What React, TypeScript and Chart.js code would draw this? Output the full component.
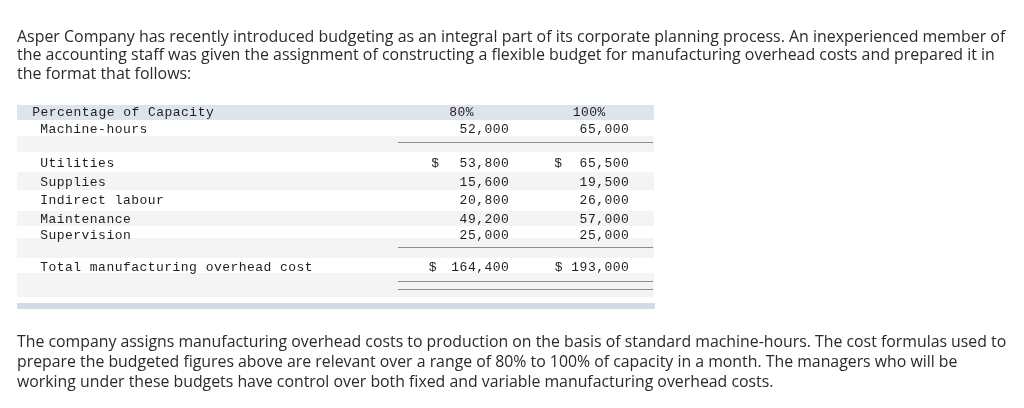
import React, { useEffect, useRef } from "react";
import { Chart, registerables } from "chart.js";

Chart.register(...registerables);

// ---------- Content / data ----------
const introLines = [
  "Asper Company has recently introduced budgeting as an integral part of its corporate planning process. An inexperienced member of",
  "the accounting staff was given the assignment of constructing a flexible budget for manufacturing overhead costs and prepared it in",
  "the format that follows:",
];
const outroLines = [
  "The company assigns manufacturing overhead costs to production on the basis of standard machine-hours. The cost formulas used to",
  "prepare the budgeted figures above are relevant over a range of 80% to 100% of capacity in a month. The managers who will be",
  "working under these budgets have control over both fixed and variable manufacturing overhead costs.",
];

const headerLabel = "Percentage of Capacity";
const activityLabel = "Machine-hours";
const capacityLevels = ["80%", "100%"];
const machineHours = [52000, 65000];
const costItems = ["Utilities", "Supplies", "Indirect labour", "Maintenance", "Supervision"];
const cost80 = [53800, 15600, 20800, 49200, 25000];
const cost100 = [65500, 19500, 26000, 57000, 25000];
const totalLabel = "Total manufacturing overhead cost";

// ---------- Layout / style (not data) ----------
const W = 1024;
const H = 408;
const TABLE_L = 17;
const TABLE_R = 654;
const COLS = [
  { l: 398, r: 525, numRight: 509, dollarLeft: 431, totalDollarLeft: 428.5 },
  { l: 525, r: 653, numRight: 629, dollarLeft: 554, totalDollarLeft: 0 },
];
const HEADER_BAND = { y0: 105, y1: 120 };
const BOTTOM_BAND = { y0: 303, y1: 309 };
const GRAY_STRIPES = [
  [136, 152],
  [172, 190],
  [211, 226],
  [238, 258],
  [273, 297],
];
const BASE_HEADER = 116;
const BASE_ACTIVITY = 132.5;
const BASE_COSTS = [167, 186, 204, 222.5, 238.5];
const BASE_TOTAL = 271;
const RULE_SINGLE = [142.5, 247.5];
const RULE_DOUBLE = [281.5, 289.5];

const MONO_FONT = '13px "Liberation Mono", "DejaVu Sans Mono", monospace';
const ADV = 8.27;
const TEXT_COLOR = "#1e1e1e";
const HEADER_COLOR = "#dfe3ec";
const BAND_COLOR = "#d3d9e6";
const STRIPE_COLOR = "#f4f4f4";
const RULE_COLOR = "#8c8c8c";

const fmt = (n: number) => n.toLocaleString("en-US");

function mono(ctx: CanvasRenderingContext2D, s: string, x: number, y: number, align: "left" | "right" | "center") {
  const w = s.length * ADV;
  const x0 = align === "right" ? x - w : align === "center" ? x - w / 2 : x;
  ctx.textAlign = "center";
  ctx.textBaseline = "alphabetic";
  for (let i = 0; i < s.length; i++) {
    if (s[i] !== " ") ctx.fillText(s[i], x0 + i * ADV + ADV / 2, y);
  }
}

const tablePlugin = {
  id: "budgetTable",
  afterDraw(chart: any) {
    const ctx: CanvasRenderingContext2D = chart.ctx;
    ctx.save();
    ctx.fillStyle = HEADER_COLOR;
    ctx.fillRect(TABLE_L, HEADER_BAND.y0, TABLE_R - TABLE_L, HEADER_BAND.y1 - HEADER_BAND.y0);
    ctx.fillStyle = STRIPE_COLOR;
    GRAY_STRIPES.forEach(([a, b]) => ctx.fillRect(TABLE_L, a, TABLE_R - TABLE_L, b - a));
    ctx.fillStyle = BAND_COLOR;
    ctx.fillRect(TABLE_L, BOTTOM_BAND.y0, TABLE_R + 1 - TABLE_L, BOTTOM_BAND.y1 - BOTTOM_BAND.y0);

    ctx.strokeStyle = RULE_COLOR;
    ctx.lineWidth = 1;
    const ruleL = COLS[0].l;
    const ruleR = COLS[1].r;
    [...RULE_SINGLE, ...RULE_DOUBLE].forEach((y) => {
      ctx.beginPath();
      ctx.moveTo(ruleL, y);
      ctx.lineTo(ruleR, y);
      ctx.stroke();
    });

    ctx.fillStyle = TEXT_COLOR;
    ctx.font = MONO_FONT;
    mono(ctx, headerLabel, 32, BASE_HEADER, "left");
    capacityLevels.forEach((c, i) => mono(ctx, c, (COLS[i].l + COLS[i].r) / 2, BASE_HEADER, "center"));

    mono(ctx, activityLabel, 40, BASE_ACTIVITY, "left");
    machineHours.forEach((v, i) => mono(ctx, fmt(v), COLS[i].numRight, BASE_ACTIVITY, "right"));

    const series = [cost80, cost100];
    costItems.forEach((label, r) => {
      const y = BASE_COSTS[r];
      mono(ctx, label, 40, y, "left");
      series.forEach((vals, c) => {
        mono(ctx, fmt(vals[r]), COLS[c].numRight, y, "right");
        if (r === 0) mono(ctx, "$", COLS[c].dollarLeft, y, "left");
      });
    });

    const totals = series.map((vals) => vals.reduce((a, b) => a + b, 0));
    mono(ctx, totalLabel, 40, BASE_TOTAL, "left");
    mono(ctx, fmt(totals[0]), COLS[0].numRight, BASE_TOTAL, "right");
    mono(ctx, "$", COLS[0].totalDollarLeft, BASE_TOTAL, "left");
    mono(ctx, "$ " + fmt(totals[1]), COLS[1].numRight, BASE_TOTAL, "right");
    ctx.restore();
  },
};

const paraStyle: React.CSSProperties = {
  position: "absolute",
  left: 17,
  margin: 0,
  fontFamily: '"Open Sans", sans-serif',
  color: "#2a2a2a",
  whiteSpace: "nowrap",
};

export default function App() {
  const ref = useRef<HTMLCanvasElement | null>(null);
  useEffect(() => {
    if (!ref.current) return;
    const chart = new Chart(ref.current, {
      type: "bar",
      data: { labels: [headerLabel, activityLabel, ...costItems, totalLabel], datasets: [] },
      options: {
        responsive: false,
        animation: false,
        events: [],
        layout: { padding: 0 },
        plugins: { legend: { display: false }, tooltip: { enabled: false } },
        scales: { x: { display: false }, y: { display: false } },
      },
      plugins: [tablePlugin],
    });
    return () => chart.destroy();
  }, []);
  return (
    <div style={{ position: "fixed", left: 0, top: 0, width: W, height: H, background: "#fff", overflow: "hidden" }}>
      <canvas ref={ref} width={W} height={H} style={{ position: "absolute", left: 0, top: 0, width: W, height: H }} />
      <div style={{ ...paraStyle, fontSize: 15.95, top: 26.5, lineHeight: "18.8px" }}>
        {introLines.map((l, i) => (
          <div key={i}>{l}</div>
        ))}
      </div>
      <div style={{ ...paraStyle, fontSize: 15.85, top: 330.5, lineHeight: "20px" }}>
        {outroLines.map((l, i) => (
          <div key={i}>{l}</div>
        ))}
      </div>
    </div>
  );
}
